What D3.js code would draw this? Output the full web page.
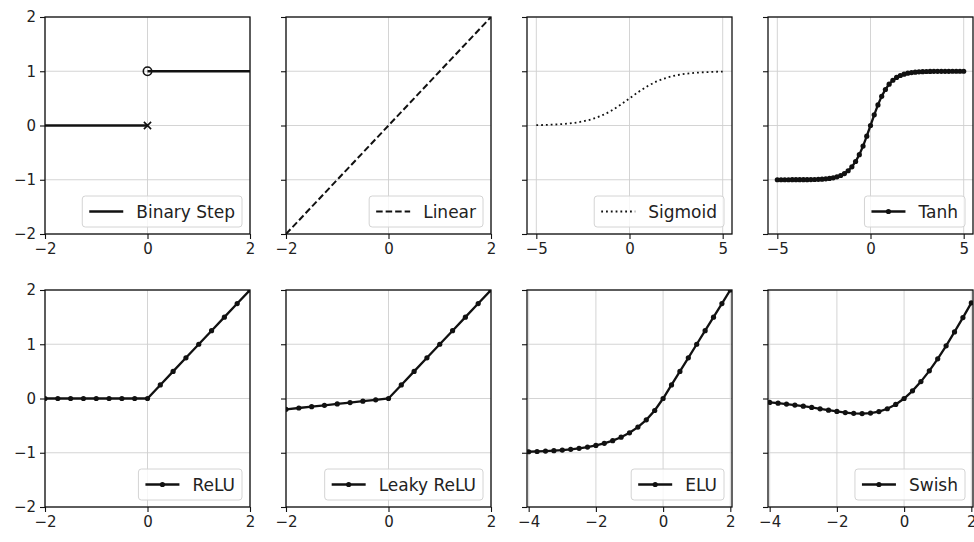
<!DOCTYPE html>
<html>
<head>
<meta charset="utf-8">
<script src="https://cdn.jsdelivr.net/npm/d3@7"></script>
<style>
  body { margin: 0; background: #fff; }
  text { font-family: "DejaVu Sans", sans-serif; }
</style>
</head>
<body>
<svg id="fig" width="974" height="542"></svg>
<script>
// ---- data ----
const stepLeftX = [-2, 0];
const stepLeftY = [0, 0];
const stepRightX = [0, 2];
const stepRightY = [1, 1];
const stepOpenPoint = [0, 1];
const stepCrossPoint = [0, 0];

const linearX = [-2, 2];
const linearY = [-2, 2];

const sigmoidX = [-5, -4.5, -4, -3.5, -3, -2.5, -2, -1.5, -1, -0.5, 0, 0.5, 1, 1.5, 2, 2.5, 3, 3.5, 4, 4.5, 5];
const sigmoidY = [0.0067, 0.0110, 0.0180, 0.0293, 0.0474, 0.0759, 0.1192, 0.1824, 0.2689, 0.3775, 0.5,
                  0.6225, 0.7311, 0.8176, 0.8808, 0.9241, 0.9526, 0.9707, 0.9820, 0.9890, 0.9933];

const tanhX = [-5, -4.8, -4.6, -4.4, -4.2, -4, -3.8, -3.6, -3.4, -3.2, -3, -2.8, -2.6, -2.4, -2.2, -2, -1.8, -1.6, -1.4, -1.2, -1,
               -0.8, -0.6, -0.4, -0.2, 0, 0.2, 0.4, 0.6, 0.8, 1, 1.2, 1.4, 1.6, 1.8, 2, 2.2, 2.4, 2.6, 2.8, 3,
               3.2, 3.4, 3.6, 3.8, 4, 4.2, 4.4, 4.6, 4.8, 5];
const tanhY = [-0.9999, -0.9999, -0.9998, -0.9997, -0.9995, -0.9993, -0.9990, -0.9985, -0.9978, -0.9967, -0.9951,
               -0.9926, -0.9890, -0.9837, -0.9757, -0.9640, -0.9468, -0.9217, -0.8854, -0.8337, -0.7616,
               -0.6640, -0.5370, -0.3799, -0.1974, 0, 0.1974, 0.3799, 0.5370, 0.6640, 0.7616,
               0.8337, 0.8854, 0.9217, 0.9468, 0.9640, 0.9757, 0.9837, 0.9890, 0.9926, 0.9951,
               0.9967, 0.9978, 0.9985, 0.9990, 0.9993, 0.9995, 0.9997, 0.9998, 0.9999, 0.9999];

const reluX = [-2, -1.75, -1.5, -1.25, -1, -0.75, -0.5, -0.25, 0, 0.25, 0.5, 0.75, 1, 1.25, 1.5, 1.75, 2];
const reluY = [0, 0, 0, 0, 0, 0, 0, 0, 0, 0.25, 0.5, 0.75, 1, 1.25, 1.5, 1.75, 2];

const leakyX = [-2, -1.75, -1.5, -1.25, -1, -0.75, -0.5, -0.25, 0, 0.25, 0.5, 0.75, 1, 1.25, 1.5, 1.75, 2];
const leakyY = [-0.2, -0.175, -0.15, -0.125, -0.1, -0.075, -0.05, -0.025, 0, 0.25, 0.5, 0.75, 1, 1.25, 1.5, 1.75, 2];

const eluX = [-4, -3.75, -3.5, -3.25, -3, -2.75, -2.5, -2.25, -2, -1.75, -1.5, -1.25, -1, -0.75, -0.5, -0.25,
              0, 0.25, 0.5, 0.75, 1, 1.25, 1.5, 1.75, 2];
const eluY = [-0.9817, -0.9765, -0.9698, -0.9612, -0.9502, -0.9361, -0.9179, -0.8946, -0.8647, -0.8262, -0.7769,
              -0.7135, -0.6321, -0.5276, -0.3935, -0.2212, 0, 0.25, 0.5, 0.75, 1, 1.25, 1.5, 1.75, 2];

const swishX = [-4, -3.75, -3.5, -3.25, -3, -2.75, -2.5, -2.25, -2, -1.75, -1.5, -1.25, -1, -0.75, -0.5, -0.25,
                0, 0.25, 0.5, 0.75, 1, 1.25, 1.5, 1.75, 2];
const swishY = [-0.0719, -0.0862, -0.1026, -0.1213, -0.1423, -0.1653, -0.1896, -0.2145, -0.2384, -0.2591, -0.2736,
                -0.2784, -0.2689, -0.2406, -0.1888, -0.1094, 0, 0.1406, 0.3112, 0.5094, 0.7311, 0.9716, 1.2264,
                1.4910, 1.7616];

const titles = ["Binary Step", "Linear", "Sigmoid", "Tanh", "ReLU", "Leaky ReLU", "ELU", "Swish"];
const ticksUnit2 = [-2, 0, 2];
const ticksUnit5 = [-5, 0, 5];
const ticksNeg4 = [-4, -2, 0, 2];
const yTickValues = [-2, -1, 0, 1, 2];
const yDomain = [-2, 2];

// ---- layout ----
const colLeft = [45, 286, 527, 768];
const rowTop = [17, 290];
const panelW = 205, panelH = 217;
const tickFont = 15, legendFont = 17;

const zip = (xs, ys) => xs.map((v, i) => [v, ys[i]]);

const panels = [
  { row: 0, col: 0, xDomain: [-2, 2], xTicks: ticksUnit2, title: titles[0], style: "solid",
    series: [zip(stepLeftX, stepLeftY), zip(stepRightX, stepRightY)], step: true },
  { row: 0, col: 1, xDomain: [-2, 2], xTicks: ticksUnit2, title: titles[1], style: "dashed",
    series: [zip(linearX, linearY)] },
  { row: 0, col: 2, xDomain: [-5.5, 5.5], xTicks: ticksUnit5, title: titles[2], style: "dotted",
    series: [zip(sigmoidX, sigmoidY)], smooth: true },
  { row: 0, col: 3, xDomain: [-5.5, 5.5], xTicks: ticksUnit5, title: titles[3], style: "marker",
    series: [zip(tanhX, tanhY)] },
  { row: 1, col: 0, xDomain: [-2, 2], xTicks: ticksUnit2, title: titles[4], style: "marker",
    series: [zip(reluX, reluY)] },
  { row: 1, col: 1, xDomain: [-2, 2], xTicks: ticksUnit2, title: titles[5], style: "marker",
    series: [zip(leakyX, leakyY)] },
  { row: 1, col: 2, xDomain: [-4.05, 2.05], xTicks: ticksNeg4, title: titles[6], style: "marker",
    series: [zip(eluX, eluY)] },
  { row: 1, col: 3, xDomain: [-4.05, 2.05], xTicks: ticksNeg4, title: titles[7], style: "marker",
    series: [zip(swishX, swishY)] }
];

const ink = "#111";
const gridColor = "#cfcfcf";
const svg = d3.select("#fig");
svg.append("rect").attr("width", 974).attr("height", 542).attr("fill", "#fff");

const dashFor = { solid: null, dashed: "6.5,3", dotted: "1.8,3", marker: null };
const widthFor = { solid: 2.3, dashed: 2, dotted: 1.8, marker: 2.3 };
const markerR = 2.6;

panels.forEach((p, i) => {
  const g = svg.append("g").attr("transform", `translate(${colLeft[p.col]},${rowTop[p.row]})`);
  const x = d3.scaleLinear().domain(p.xDomain).range([0, panelW]);
  const y = d3.scaleLinear().domain(yDomain).range([panelH, 0]);

  // grid
  g.append("g").selectAll("line").data(p.xTicks).join("line")
    .attr("x1", d => x(d)).attr("x2", d => x(d)).attr("y1", 0).attr("y2", panelH)
    .attr("stroke", gridColor).attr("stroke-width", 0.9);
  g.append("g").selectAll("line").data(yTickValues).join("line")
    .attr("y1", d => y(d)).attr("y2", d => y(d)).attr("x1", 0).attr("x2", panelW)
    .attr("stroke", gridColor).attr("stroke-width", 0.9);

  // clip region
  const clipId = `clip-${i}`;
  g.append("clipPath").attr("id", clipId)
    .append("rect").attr("width", panelW).attr("height", panelH);
  const plot = g.append("g").attr("clip-path", `url(#${clipId})`);

  const line = d3.line().x(d => x(d[0])).y(d => y(d[1]))
    .curve(p.smooth ? d3.curveMonotoneX : d3.curveLinear);

  p.series.forEach(s => {
    plot.append("path").attr("d", line(s))
      .attr("fill", "none").attr("stroke", ink)
      .attr("stroke-width", widthFor[p.style])
      .attr("stroke-dasharray", dashFor[p.style]);
    if (p.style === "marker") {
      plot.append("g").selectAll("circle").data(s).join("circle")
        .attr("cx", d => x(d[0])).attr("cy", d => y(d[1])).attr("r", markerR)
        .attr("fill", ink);
    }
  });

  if (p.step) {
    // open circle at the upper value, cross at the lower value
    plot.append("circle").attr("cx", x(stepOpenPoint[0])).attr("cy", y(stepOpenPoint[1]))
      .attr("r", 4.2).attr("fill", "none").attr("stroke", ink).attr("stroke-width", 1.6);
    const cx = x(stepCrossPoint[0]), cy = y(stepCrossPoint[1]), k = 3.6;
    plot.append("path")
      .attr("d", `M${cx - k},${cy - k}L${cx + k},${cy + k}M${cx - k},${cy + k}L${cx + k},${cy - k}`)
      .attr("stroke", ink).attr("stroke-width", 1.6);
  }

  // axes
  const xAxis = g.append("g").attr("transform", `translate(0,${panelH})`)
    .call(d3.axisBottom(x).tickValues(p.xTicks).tickSize(5).tickPadding(4).tickFormat(d3.format("d")));
  const yAxis = g.append("g")
    .call(d3.axisLeft(y).tickValues(yTickValues).tickSize(5).tickPadding(4)
      .tickFormat(p.col === 0 ? d3.format("d") : () => ""));
  [xAxis, yAxis].forEach(a => {
    a.select(".domain").remove();
    a.selectAll(".tick line").attr("stroke", ink).attr("stroke-width", 1.1);
    a.selectAll(".tick text").attr("fill", "#222").attr("font-size", tickFont)
      .attr("font-family", "DejaVu Sans");
  });

  // frame
  g.append("rect").attr("width", panelW).attr("height", panelH)
    .attr("fill", "none").attr("stroke", ink).attr("stroke-width", 1.3);

  // legend
  const lg = g.append("g");
  const box = lg.append("rect");
  const label = lg.append("text").text(p.title).attr("font-size", legendFont).attr("fill", "#222");
  const tw = label.node().getComputedTextLength();
  const pad = 7, handle = 34, gap = 13, boxH = 31;
  const boxW = pad + handle + gap + tw + pad;
  const bx = panelW - 8 - boxW, by = panelH - 7 - boxH, my = by + boxH / 2;
  box.attr("x", bx).attr("y", by).attr("width", boxW).attr("height", boxH).attr("rx", 3)
    .attr("fill", "#fff").attr("fill-opacity", 0.8).attr("stroke", "#d4d4d4").attr("stroke-width", 1);
  lg.append("line").attr("x1", bx + pad).attr("x2", bx + pad + handle).attr("y1", my).attr("y2", my)
    .attr("stroke", ink).attr("stroke-width", widthFor[p.style]).attr("stroke-dasharray", dashFor[p.style]);
  if (p.style === "marker") {
    lg.append("circle").attr("cx", bx + pad + handle / 2).attr("cy", my).attr("r", markerR).attr("fill", ink);
  }
  label.attr("x", bx + pad + handle + gap).attr("y", my).attr("dy", "0.36em");
});
</script>
</body>
</html>
